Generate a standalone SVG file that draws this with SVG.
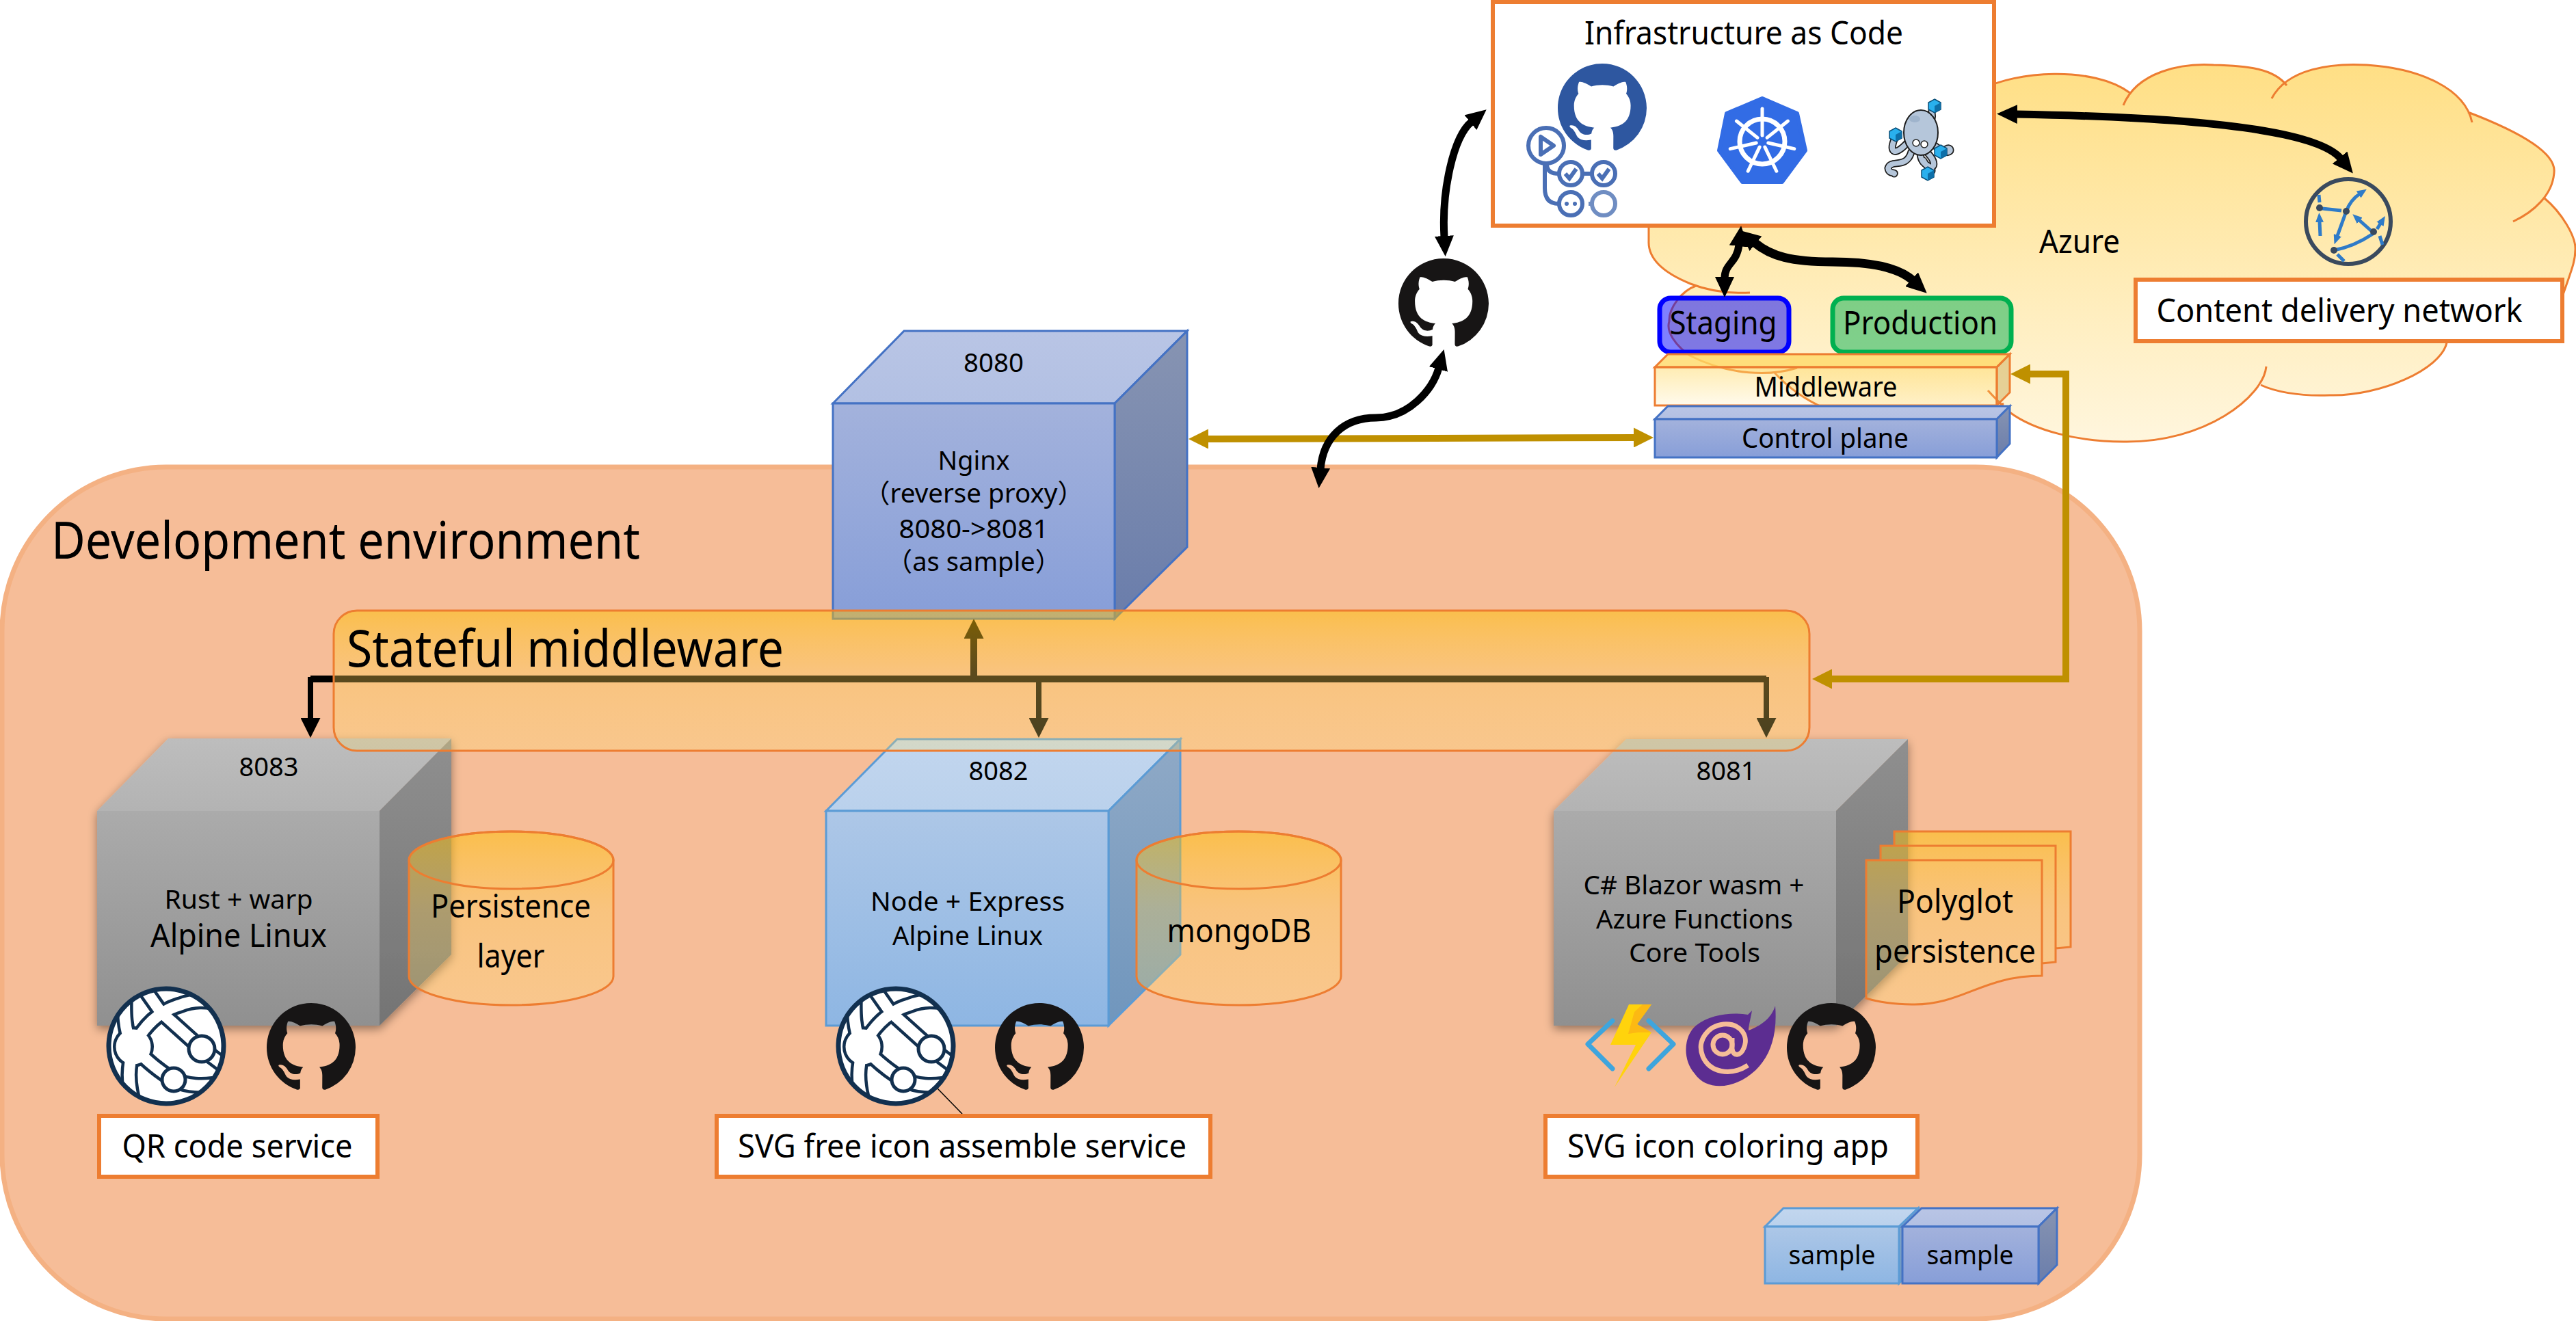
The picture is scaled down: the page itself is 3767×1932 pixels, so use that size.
<svg xmlns="http://www.w3.org/2000/svg" xmlns:xlink="http://www.w3.org/1999/xlink" width="3767" height="1932" viewBox="0 0 3767 1932">
<style>
text{font-family:"Noto Sans","Noto Sans CJK JP",sans-serif;fill:#000;text-anchor:middle}
.s38{font-size:38px}.s40{font-size:40px}.s47{font-size:47px}.s74{font-size:74px;text-anchor:start}
.lbl{fill:#fff;stroke:#ed7d31;stroke-width:6}
.blk{fill:none;stroke:#000;stroke-width:11}
.gold{fill:none;stroke:#bf9000;stroke-width:10}
.bar{fill:none;stroke:#000;stroke-width:10}
.br{fill:none;stroke:#000;stroke-width:8}
.bluebox{stroke:#4472c4;stroke-width:3}
.skybox{stroke:#5b9bd5;stroke-width:3}
.orng{stroke:#ed7d31;stroke-width:3}
.f1{fill:url(#navyF)}.t1{fill:url(#navyT)}.d1{fill:url(#navyS)}
.f2{fill:url(#skyF)}.t2{fill:url(#skyT)}.d2{fill:url(#skyS)}
.f3{fill:url(#grayF)}.t3{fill:url(#grayT)}.d3{fill:url(#grayS)}
.amber{fill:url(#amber)}
</style>
<defs>
<linearGradient id="cloudG" gradientUnits="userSpaceOnUse" x1="0" y1="95" x2="0" y2="650"><stop offset="0" stop-color="#ffdf85"/><stop offset="1" stop-color="#fff6de"/></linearGradient>
<linearGradient id="navyF" x1="0" y1="0" x2="0" y2="1"><stop offset="0" stop-color="#a3b2dc"/><stop offset="1" stop-color="#879ed8"/></linearGradient>
<linearGradient id="navyT" x1="0" y1="0" x2="0" y2="1"><stop offset="0" stop-color="#b9c5e5"/><stop offset="1" stop-color="#b2c0e3"/></linearGradient>
<linearGradient id="navyS" x1="0" y1="0" x2="0" y2="1"><stop offset="0" stop-color="#8794b2"/><stop offset="1" stop-color="#6a7dab"/></linearGradient>
<linearGradient id="skyF" x1="0" y1="0" x2="0" y2="1"><stop offset="0" stop-color="#adc7e7"/><stop offset="1" stop-color="#8eb6e3"/></linearGradient>
<linearGradient id="skyT" x1="0" y1="0" x2="0" y2="1"><stop offset="0" stop-color="#c2d6ee"/><stop offset="1" stop-color="#bad1ec"/></linearGradient>
<linearGradient id="skyS" x1="0" y1="0" x2="0" y2="1"><stop offset="0" stop-color="#8fa9c6"/><stop offset="1" stop-color="#7096bd"/></linearGradient>
<linearGradient id="grayF" x1="0" y1="0" x2="0" y2="1"><stop offset="0" stop-color="#ababab"/><stop offset="1" stop-color="#909090"/></linearGradient>
<linearGradient id="grayT" x1="0" y1="0" x2="0" y2="1"><stop offset="0" stop-color="#bdbdbd"/><stop offset="1" stop-color="#b3b3b3"/></linearGradient>
<linearGradient id="grayS" x1="0" y1="0" x2="0" y2="1"><stop offset="0" stop-color="#8f8f8f"/><stop offset="1" stop-color="#747474"/></linearGradient>
<linearGradient id="amber" x1="0" y1="0" x2="0" y2="1"><stop offset="0" stop-color="#ffc000" stop-opacity=".5"/><stop offset=".45" stop-color="#ffcf50" stop-opacity=".36"/><stop offset="1" stop-color="#ffdf70" stop-opacity=".28"/></linearGradient>
<linearGradient id="mwF" x1="0" y1="0" x2="0" y2="1"><stop offset="0" stop-color="#ffd966" stop-opacity=".5"/><stop offset="1" stop-color="#ffd966" stop-opacity=".12"/></linearGradient>
<filter id="shadow" x="-20%" y="-20%" width="140%" height="140%"><feDropShadow dx="0" dy="5" stdDeviation="7" flood-color="#000" flood-opacity=".4"/></filter>
<marker id="hb" markerUnits="userSpaceOnUse" viewBox="0 0 30 28" markerWidth="30" markerHeight="28" refX="2" refY="14" orient="auto-start-reverse"><path d="M0 0L30 14L0 28Z" fill="#000"/></marker>
<marker id="hd" markerUnits="userSpaceOnUse" viewBox="0 0 29 29" markerWidth="29" markerHeight="29" refX="1" refY="14.5" orient="auto-start-reverse"><path d="M0 0L29 14.5L0 29Z" fill="#000"/></marker>
<marker id="hg" markerUnits="userSpaceOnUse" viewBox="0 0 29 29" markerWidth="29" markerHeight="29" refX="1" refY="14.5" orient="auto-start-reverse"><path d="M0 0L29 14.5L0 29Z" fill="#bf9000"/></marker>
<marker id="hc" markerUnits="userSpaceOnUse" viewBox="0 0 14 12" markerWidth="14" markerHeight="12" refX="1" refY="6" orient="auto-start-reverse"><path d="M0 0L14 6L0 12Z" fill="#2f7bc8"/></marker>
<symbol id="gh" viewBox="0 0 16 16" overflow="visible"><path fill-rule="evenodd" d="M8 0C3.58 0 0 3.58 0 8c0 3.54 2.29 6.53 5.47 7.59.4.07.55-.17.55-.38 0-.19-.01-.82-.01-1.49-2.01.37-2.53-.49-2.69-.94-.09-.23-.48-.94-.82-1.13-.28-.15-.68-.52-.01-.53.63-.01 1.08.58 1.23.82.72 1.21 1.87.87 2.33.66.07-.52.28-.87.51-1.07-1.78-.2-3.64-.89-3.64-3.95 0-.87.31-1.59.82-2.15-.08-.2-.36-1.02.08-2.12 0 0 .67-.21 2.2.82.64-.18 1.32-.27 2-.27.68 0 1.36.09 2 .27 1.53-1.04 2.2-.82 2.2-.82.44 1.1.16 1.92.08 2.12.51.56.82 1.27.82 2.15 0 3.07-1.87 3.75-3.65 3.95.29.25.54.73.54 1.48 0 1.07-.01 1.93-.01 2.2 0 .21.15.46.55.38A8.013 8.013 0 0016 8c0-4.42-3.58-8-8-8z"/></symbol>
<clipPath id="globeClip"><circle r="85"/></clipPath>
<g id="globe">
<circle r="85" fill="#fff"/>
<g clip-path="url(#globeClip)" fill="none">
<g stroke="#12304f" stroke-width="25">
<path d="M-36-90L-8-50L52 4L92 34"/><path d="M-48 1C-35-25-15-50 20-60C40-68 55-68 90-62"/><path d="M-48 1C-25 25-5 40 11 49C30 58 50 60 90 54"/><path d="M-48 1C-62-20-62-50-60-90"/><path d="M-48 1C-55 30-58 50-46 90"/>
</g>
<circle cx="-48" cy="1" r="30" fill="#12304f"/>
<g stroke="#fff" stroke-width="16">
<path d="M-36-90L-8-50L52 4L92 34"/><path d="M-48 1C-35-25-15-50 20-60C40-68 55-68 90-62"/><path d="M-48 1C-25 25-5 40 11 49C30 58 50 60 90 54"/><path d="M-48 1C-62-20-62-50-60-90"/><path d="M-48 1C-55 30-58 50-46 90"/>
</g>
<circle cx="-48" cy="1" r="25.500" fill="#fff"/>
<circle cx="52" cy="4" r="19" fill="#fff" stroke="#12304f" stroke-width="5"/>
<circle cx="11" cy="49" r="17" fill="#fff" stroke="#12304f" stroke-width="5"/>
</g>
<circle r="84" fill="none" stroke="#12304f" stroke-width="7"/>
</g>
<g id="cube"><path d="M0-10L9-5L9 5L0 10L-9 5L-9-5Z" fill="#29b0ee" stroke="#0b4f78" stroke-width="1.500"/><path d="M0 0L9-5L9 5L0 10Z" fill="#0e6fa8"/></g>
</defs>

<g id="cloud-azure">
<path fill="url(#cloudG)" d="M2900 130C2945 105 3060 95 3115 136L3105 154C3125 105 3190 92 3237 95C3285 96 3325 100 3344 125L3322 144C3345 100 3410 92 3461 95C3540 100 3605 130 3615 179L3609 164C3690 195 3738 225 3735 252C3733 285 3705 310 3675 324L3721 290C3745 310 3767 345 3766 365C3766 385 3758 400 3745 440L3590 470L3578 501C3570 540 3480 580 3407 578C3360 580 3325 572 3306 563L3314 536C3310 580 3225 648 3105 646C3040 646 2975 630 2939 603C2925 590 2915 580 2907 571L2930 590C2850 640 2680 640 2594 544L2628 538C2590 550 2530 550 2471 520C2450 505 2436 485 2441 470C2440 450 2460 425 2480 418L2559 428C2520 430 2490 422 2472 415C2435 400 2410 380 2411 353L2411 300Z"/>
<path fill="none" stroke="#ed7d31" stroke-width="3" d="M2900 130C2945 105 3060 95 3115 136M3105 154C3125 105 3190 92 3237 95C3285 96 3325 100 3344 125M3322 144C3345 100 3410 92 3461 95C3540 100 3605 130 3615 179M3609 164C3690 195 3738 225 3735 252C3733 285 3705 310 3675 324M3721 290C3745 310 3767 345 3766 365C3766 385 3758 400 3745 440M3590 470L3578 501C3570 540 3480 580 3407 578C3360 580 3325 572 3306 563M3314 536C3310 580 3225 648 3105 646C3040 646 2975 630 2939 603C2925 590 2915 580 2907 571M2930 590C2850 640 2680 640 2594 544M2628 538C2590 550 2530 550 2471 520C2450 505 2436 485 2441 470C2440 450 2460 425 2480 418M2559 428C2520 430 2490 422 2472 415C2435 400 2410 380 2411 353L2411 300"/>
<text class="s47" x="3041" y="370" textLength="118" lengthAdjust="spacingAndGlyphs">Azure</text>
</g>

<g id="dev-environment">
<rect x="3" y="683" width="3126" height="1246" rx="240" fill="#f6bd98" stroke="#f4b183" stroke-width="7"/>
<text class="s74" x="75" y="817" textLength="861" lengthAdjust="spacingAndGlyphs">Development environment</text>
</g>

<g id="iac">
<rect x="2183" y="3" width="733" height="327" class="lbl"/>
<text class="s47" x="2550" y="65" textLength="466" lengthAdjust="spacingAndGlyphs">Infrastructure as Code</text>
<use href="#gh" x="2278" y="93" width="130" height="130" fill="#2e57a0"/>
<g fill="#fff" stroke="#4a6fb5" stroke-width="6">
<path d="M2259 240V275Q2259 298 2279 298M2262 240Q2262 254 2279 254M2315 254H2327" fill="none"/>
<circle cx="2261" cy="213" r="26"/>
<circle cx="2297" cy="254" r="17"/><circle cx="2345" cy="254" r="17"/><circle cx="2297" cy="298" r="17"/>
<circle cx="2345" cy="298" r="17" stroke="#6f8dc2"/>
<path d="M2253 200V226L2272 213Z" fill="none" stroke-linejoin="round"/>
<path d="M2289 254L2295 261L2305 247M2337 254L2343 261L2353 247" fill="none"/>
<path d="M2323 298H2327" stroke="#6f8dc2" fill="none"/>
</g>
<circle cx="2291" cy="298" r="3" fill="#4a6fb5"/><circle cx="2303" cy="298" r="3" fill="#4a6fb5"/>
<polygon points="2577,144 2628,166 2640,220 2606,266 2548,266 2514,220 2525,166" fill="#326ce5" stroke="#326ce5" stroke-width="6" stroke-linejoin="round"/>
<g stroke="#fff" stroke-width="5" stroke-linecap="round" fill="none">
<circle cx="2577" cy="207" r="33" stroke-width="7"/>
<g id="k8s-spokes"><path d="M2577 198V159"/><path d="M2577 198V159" transform="rotate(51.43 2577 207)"/><path d="M2577 198V159" transform="rotate(102.86 2577 207)"/><path d="M2577 198V159" transform="rotate(154.29 2577 207)"/><path d="M2577 198V159" transform="rotate(205.71 2577 207)"/><path d="M2577 198V159" transform="rotate(257.14 2577 207)"/><path d="M2577 198V159" transform="rotate(308.57 2577 207)"/></g>
</g>
<circle cx="2577" cy="207" r="6" fill="#326ce5"/>
<g fill="none" stroke-linecap="round">
<g stroke="#1d1d1d" stroke-width="11"><path d="M2822 178C2830 170 2822 165 2826 160"/><path d="M2790 208C2768 232 2762 220 2772 200"/><path d="M2828 212C2856 235 2856 212 2846 218"/><path d="M2795 222C2788 248 2765 232 2761 246C2762 255 2772 252 2770 254"/><path d="M2808 225C2810 245 2825 240 2825 250"/><path d="M2820 225C2838 245 2820 252 2813 235"/></g>
<g stroke="#b5c6da" stroke-width="7.500"><path d="M2822 178C2830 170 2822 165 2826 160"/><path d="M2790 208C2768 232 2762 220 2772 200"/><path d="M2828 212C2856 235 2856 212 2846 218"/><path d="M2795 222C2788 248 2765 232 2761 246C2762 255 2772 252 2770 254"/><path d="M2808 225C2810 245 2825 240 2825 250"/><path d="M2820 225C2838 245 2820 252 2813 235"/></g>
</g>
<ellipse cx="2809" cy="194" rx="25" ry="33" fill="#b5c6da" stroke="#1d1d1d" stroke-width="2"/>
<ellipse cx="2800" cy="174" rx="8" ry="5" fill="#9fb4cc"/>
<circle cx="2802" cy="209" r="5" fill="#fff" stroke="#222" stroke-width="1.500"/><circle cx="2814" cy="211" r="5" fill="#fff" stroke="#222" stroke-width="1.500"/>
<use href="#cube" x="2829" y="155"/><use href="#cube" x="2772" y="197"/><use href="#cube" x="2838" y="222"/><use href="#cube" x="2819" y="254"/>
</g>

<g id="staging"><rect x="2427" y="436" width="189" height="79" rx="16" fill="#0000ff" fill-opacity=".5" stroke="#0000ff" stroke-width="7"/><text class="s47" x="2520" y="489" textLength="157" lengthAdjust="spacingAndGlyphs">Staging</text></g>
<g id="production"><rect x="2680" y="436" width="261" height="79" rx="16" fill="#00b050" fill-opacity=".5" stroke="#00b050" stroke-width="7"/><text class="s47" x="2808" y="489" textLength="226" lengthAdjust="spacingAndGlyphs">Production</text></g>

<g id="middleware" class="orng">
<polygon points="2420,537 2439,518 2939,518 2920,537" fill="#ffd966" fill-opacity=".8"/>
<polygon points="2920,537 2939,518 2939,574 2920,593" fill="#c8a64d" fill-opacity=".45"/>
<rect x="2420" y="537" width="500" height="56" fill="url(#mwF)"/>
<text class="s40" x="2670" y="580" stroke="none" textLength="209" lengthAdjust="spacingAndGlyphs">Middleware</text>
</g>
<g id="control-plane" class="bluebox">
<polygon class="t1" points="2420,613 2439,594 2939,594 2920,613"/>
<polygon class="d1" points="2920,613 2939,594 2939,649 2920,669"/>
<rect class="f1" x="2420" y="613" width="500" height="56"/>
<text class="s40" x="2669" y="655" stroke="none" textLength="244" lengthAdjust="spacingAndGlyphs">Control plane</text>
</g>

<g id="cdn">
<rect x="3123" y="409" width="624" height="90" class="lbl"/>
<text class="s47" x="3421" y="471" textLength="535" lengthAdjust="spacingAndGlyphs">Content delivery network</text>
<circle cx="3434" cy="324" r="62" fill="none" stroke="#3a4a5e" stroke-width="6"/>
<g fill="none" stroke="#2f7bc8" stroke-width="5">
<path d="M3431 309C3436 296 3444 288 3450 284" marker-end="url(#hc)"/>
<path d="M3396 305L3424 308"/>
<path d="M3431 309L3418 345" marker-end="url(#hc)"/>
<path d="M3393 345L3392 324" marker-end="url(#hc)"/>
<path d="M3468 338L3450 322" marker-end="url(#hc)"/>
<path d="M3476 335L3481 327" marker-end="url(#hc)"/>
<path d="M3413 366C3435 362 3455 352 3470 342"/>
<path d="M3480 345L3484 358M3391 285L3392 296M3418 372L3428 382"/>
</g>
<g fill="#3a4a5e"><circle cx="3392" cy="304" r="5"/><circle cx="3431" cy="309" r="5"/><circle cx="3471" cy="339" r="5"/><circle cx="3413" cy="366" r="5"/></g>
</g>

<g id="nginx" class="bluebox">
<polygon class="t1" points="1218,590 1322,484 1736,484 1630,590"/>
<polygon class="d1" points="1630,590 1736,484 1736,800 1630,905"/>
<rect class="f1" x="1218" y="590" width="412" height="315"/>
<g stroke="none">
<text class="s38" x="1453" y="544" textLength="88" lengthAdjust="spacingAndGlyphs">8080</text>
<text class="s38" x="1424" y="687" textLength="105" lengthAdjust="spacingAndGlyphs">Nginx</text>
<text class="s38" x="1424" y="735" textLength="322" lengthAdjust="spacingAndGlyphs">（reverse proxy）</text>
<text class="s38" x="1424" y="787" textLength="219" lengthAdjust="spacingAndGlyphs">8080-&gt;8081</text>
<text class="s38" x="1424" y="835" textLength="256" lengthAdjust="spacingAndGlyphs">（as sample）</text>
</g>
</g>

<g id="qr-service">
<g filter="url(#shadow)">
<polygon class="t3" points="142,1186 246,1080 660,1080 555,1186"/>
<polygon class="d3" points="555,1186 660,1080 660,1396 555,1500"/>
<rect class="f3" x="142" y="1186" width="413" height="314"/>
</g>
<text class="s38" x="393" y="1135" textLength="87" lengthAdjust="spacingAndGlyphs">8083</text>
<text class="s38" x="349" y="1329" textLength="217" lengthAdjust="spacingAndGlyphs">Rust + warp</text>
<text class="s47" x="349" y="1385" textLength="258" lengthAdjust="spacingAndGlyphs">Alpine Linux</text>
<path class="amber orng" d="M598 1258a149.500 42 0 0 1 299 0v170a149.500 42 0 0 1-299 0z"/>
<ellipse cx="747.500" cy="1258" rx="149.500" ry="42" fill="none" class="orng"/>
<text class="s47" x="747" y="1342" textLength="234" lengthAdjust="spacingAndGlyphs">Persistence</text>
<text class="s47" x="747" y="1415" textLength="99" lengthAdjust="spacingAndGlyphs">layer</text>
<use href="#globe" transform="translate(243 1530)"/>
<use href="#gh" x="390" y="1467" width="130" height="130" fill="#171515"/>
<rect x="145" y="1632" width="407" height="89" class="lbl"/>
<text class="s47" x="347" y="1693" textLength="337" lengthAdjust="spacingAndGlyphs">QR code service</text>
</g>

<g id="svg-assemble-service">
<g class="skybox">
<polygon class="t2" points="1208,1186 1312,1081 1726,1081 1621,1186"/>
<polygon class="d2" points="1621,1186 1726,1081 1726,1396 1621,1500"/>
<rect class="f2" x="1208" y="1186" width="413" height="314"/>
</g>
<text class="s38" x="1460" y="1141" textLength="87" lengthAdjust="spacingAndGlyphs">8082</text>
<text class="s38" x="1415" y="1332" textLength="284" lengthAdjust="spacingAndGlyphs">Node + Express</text>
<text class="s38" x="1415" y="1382" textLength="220" lengthAdjust="spacingAndGlyphs">Alpine Linux</text>
<path class="amber orng" d="M1662 1258a149.500 42 0 0 1 299 0v170a149.500 42 0 0 1-299 0z"/>
<ellipse cx="1811.500" cy="1258" rx="149.500" ry="42" fill="none" class="orng"/>
<text class="s47" x="1812" y="1378" textLength="211" lengthAdjust="spacingAndGlyphs">mongoDB</text>
<path d="M1371 1592L1407 1629" stroke="#000" stroke-width="1.500" fill="none"/>
<use href="#globe" transform="translate(1310 1530)"/>
<use href="#gh" x="1455" y="1467" width="130" height="130" fill="#171515"/>
<rect x="1048" y="1632" width="722" height="89" class="lbl"/>
<text class="s47" x="1407" y="1693" textLength="656" lengthAdjust="spacingAndGlyphs">SVG free icon assemble service</text>
</g>

<g id="svg-coloring-app">
<g filter="url(#shadow)">
<polygon class="t3" points="2272,1186 2378,1081 2790,1081 2685,1186"/>
<polygon class="d3" points="2685,1186 2790,1081 2790,1396 2685,1500"/>
<rect class="f3" x="2272" y="1186" width="413" height="314"/>
</g>
<text class="s38" x="2524" y="1141" textLength="87" lengthAdjust="spacingAndGlyphs">8081</text>
<text class="s38" x="2477" y="1308" textLength="323" lengthAdjust="spacingAndGlyphs">C# Blazor wasm +</text>
<text class="s38" x="2478" y="1358" textLength="288" lengthAdjust="spacingAndGlyphs">Azure Functions</text>
<text class="s38" x="2478" y="1407" textLength="192" lengthAdjust="spacingAndGlyphs">Core Tools</text>
<path class="amber" d="M2770 1216H3028V1385L3006 1387V1407L2986 1409V1427C2900 1427 2870 1469 2800 1469C2770 1469 2745 1465 2729 1460V1258H2750V1237H2770Z"/>
<path class="orng" fill="none" d="M2770 1237V1216H3028V1385L3006 1387M2750 1258V1237H3006V1407L2986 1409M2729 1258H2986V1427C2900 1427 2870 1469 2800 1469C2770 1469 2745 1465 2729 1460Z"/>
<text class="s47" x="2859" y="1335" textLength="170" lengthAdjust="spacingAndGlyphs">Polyglot</text>
<text class="s47" x="2859" y="1408" textLength="236" lengthAdjust="spacingAndGlyphs">persistence</text>
<g fill="none" stroke="#3ea5dd" stroke-width="7" stroke-linecap="round" stroke-linejoin="round"><path d="M2358 1493L2322 1527L2358 1563"/><path d="M2411 1493L2447 1527L2411 1563"/></g>
<polygon points="2382,1469 2415,1469 2394,1498 2415,1510 2361,1590 2392,1528 2355,1528" fill="#ffd30c"/>
<polygon points="2402,1469 2415,1469 2394,1498 2415,1510 2395,1510 2381,1512 2390,1480" fill="#fcb913"/>
<path fill="#5c2d91" d="M2596 1471C2600 1520 2585 1555 2555 1575C2530 1592 2495 1595 2478 1570C2460 1550 2462 1515 2480 1500C2500 1483 2535 1480 2556 1484L2562 1478C2560 1490 2557 1500 2557 1507C2575 1500 2590 1490 2596 1471Z"/>
<g fill="none" stroke="#f6bd98" stroke-width="7"><path d="M2556 1558C2530 1575 2500 1568 2490 1545C2480 1520 2500 1500 2520 1498C2545 1496 2558 1515 2550 1533C2545 1545 2535 1545 2533 1535"/><circle cx="2519" cy="1528" r="14"/><path d="M2533 1518V1538"/></g>
<use href="#gh" x="2613" y="1467" width="130" height="130" fill="#171515"/>
<rect x="2260" y="1632" width="544" height="89" class="lbl"/>
<text class="s47" x="2527" y="1693" textLength="470" lengthAdjust="spacingAndGlyphs">SVG icon coloring app</text>
</g>

<g id="github-hub"><use href="#gh" x="2045" y="378" width="132" height="132" fill="#171515"/></g>

<g id="sample-sky" class="skybox">
<polygon class="t2" points="2581,1794 2608,1767 2805,1767 2777,1794"/>
<polygon class="d2" points="2777,1794 2805,1767 2805,1850 2777,1877"/>
<rect class="f2" x="2581" y="1794" width="196" height="83"/>
<text class="s38" x="2679" y="1849" stroke="none" textLength="127" lengthAdjust="spacingAndGlyphs">sample</text>
</g>
<g id="sample-navy" class="bluebox">
<polygon class="t1" points="2782,1794 2810,1767 3008,1767 2981,1794"/>
<polygon class="d1" points="2981,1794 3008,1767 3008,1850 2981,1877"/>
<rect class="f1" x="2782" y="1794" width="199" height="83"/>
<text class="s38" x="2881" y="1849" stroke="none" textLength="127" lengthAdjust="spacingAndGlyphs">sample</text>
</g>

<g id="connectors">
<path class="gold" d="M1766 642L2390 640" marker-start="url(#hg)" marker-end="url(#hg)"/>
<path class="gold" d="M2678 993H3021V547H2968" marker-start="url(#hg)" marker-end="url(#hg)"/>
<path class="blk" d="M2112 347C2108 280 2125 200 2152 178" marker-start="url(#hb)" marker-end="url(#hb)"/>
<path class="blk" d="M2104 538C2095 570 2060 611 2012 611C1965 611 1935 640 1931 686" marker-start="url(#hb)" marker-end="url(#hb)"/>
<path class="blk" d="M2948 167C3120 170 3380 180 3423 232" marker-start="url(#hb)" marker-end="url(#hb)"/>
<path class="blk" d="M2543 358C2540 385 2522 385 2522 407" marker-start="url(#hb)" marker-end="url(#hb)"/>
<path class="blk" d="M2566 355C2590 375 2620 383 2680 383C2730 383 2775 390 2797 410" style="stroke-width:13" marker-start="url(#hb)" marker-end="url(#hb)"/>
<path class="bar" d="M454 993H2583"/>
<path class="bar" d="M1424 998V933" marker-end="url(#hd)"/>
<path class="br" d="M454 990V1051" marker-end="url(#hd)"/>
<path class="br" d="M1519 990V1051" marker-end="url(#hd)"/>
<path class="br" d="M2583 990V1051" marker-end="url(#hd)"/>
</g>

<g id="stateful-middleware">
<rect x="488" y="893" width="2158" height="205" rx="34" class="amber orng"/>
<text class="s74" x="507" y="975" textLength="639" lengthAdjust="spacingAndGlyphs">Stateful middleware</text>
</g>
</svg>
